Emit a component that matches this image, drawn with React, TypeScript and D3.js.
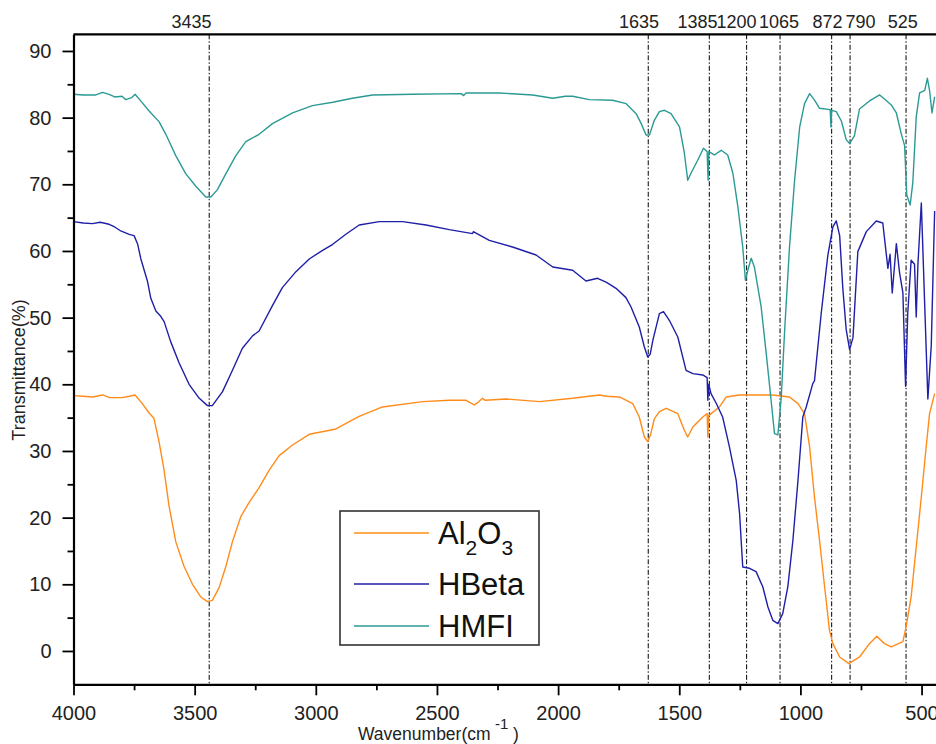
import { useEffect, useRef } from "react";
import * as d3 from "d3";

// [wavenumber, transmittance %]
const al2o3: [number, number][] = [
  [4000, 38.3], [3960, 38.2], [3922, 38.1], [3880, 38.4], [3850, 38.0], [3798, 38.0], [3770, 38.2],
  [3746, 38.4], [3716, 37.1], [3688, 35.7], [3668, 34.9], [3647, 31.4], [3626, 27.1], [3606, 21.8],
  [3578, 16.4], [3544, 12.7], [3509, 10.0], [3475, 8.1], [3447, 7.4], [3427, 7.6], [3399, 9.5],
  [3371, 12.7], [3344, 16.4], [3309, 20.2], [3275, 22.3], [3234, 24.5], [3193, 27.1], [3151, 29.3],
  [3096, 30.9], [3027, 32.5], [2958, 33.0], [2917, 33.3], [2862, 34.4], [2821, 35.2], [2725, 36.6],
  [2559, 37.4], [2449, 37.6], [2380, 37.6], [2346, 36.9], [2330, 37.3], [2312, 37.9], [2300, 37.6],
  [2215, 37.8], [2077, 37.4], [1940, 37.9], [1830, 38.4], [1800, 38.2], [1747, 38.1], [1692, 37.1],
  [1665, 35.1], [1644, 32.1], [1630, 31.4], [1618, 32.5], [1603, 34.8], [1582, 35.9], [1554, 36.4],
  [1506, 35.6], [1479, 33.1], [1465, 32.1], [1444, 33.6], [1403, 35.1], [1385, 35.6], [1382, 32.1],
  [1378, 35.3], [1369, 35.6], [1334, 36.6], [1306, 38.1], [1251, 38.4], [1114, 38.4], [1045, 38.1],
  [1010, 37.1], [983, 35.6], [962, 30.6], [942, 23.1], [921, 16.6], [900, 9.6], [880, 3.1],
  [866, 1.1], [838, -0.9], [800, -1.9], [756, -0.9], [715, 1.1], [685, 2.2], [653, 1.1],
  [625, 0.6], [577, 1.4], [564, 3.6], [543, 8.1], [522, 15.6], [501, 23.1], [481, 30.6],
  [467, 35.6], [446, 38.6],
];

const hbeta: [number, number][] = [
  [4000, 64.4], [3960, 64.2], [3922, 64.1], [3890, 64.3], [3853, 64.0], [3830, 63.6], [3805, 63.0],
  [3770, 62.5], [3750, 62.3], [3735, 61.0], [3722, 58.8], [3695, 55.5], [3681, 52.9], [3660, 51.0],
  [3640, 50.2], [3626, 49.4], [3599, 46.4], [3564, 43.2], [3523, 40.0], [3481, 37.9], [3447, 36.8],
  [3427, 36.8], [3385, 38.9], [3344, 42.1], [3303, 45.4], [3260, 47.3], [3234, 48.0], [3179, 51.8],
  [3138, 54.5], [3082, 56.9], [3027, 58.8], [2972, 60.1], [2930, 61.0], [2876, 62.5], [2821, 63.9],
  [2738, 64.4], [2642, 64.4], [2545, 63.9], [2449, 63.2], [2353, 62.6], [2350, 62.9], [2284, 61.6],
  [2188, 60.6], [2091, 59.4], [2022, 57.6], [1940, 57.1], [1885, 55.5], [1837, 55.9], [1800, 55.3],
  [1761, 54.4], [1720, 53.0], [1699, 51.6], [1665, 48.6], [1644, 45.6], [1630, 44.1], [1620, 44.5],
  [1609, 46.6], [1582, 50.6], [1565, 50.9], [1541, 49.6], [1506, 47.1], [1472, 42.1], [1444, 41.6],
  [1403, 41.4], [1385, 41.0], [1382, 37.6], [1378, 40.0], [1369, 38.6], [1348, 37.2], [1321, 35.1],
  [1293, 30.6], [1265, 25.6], [1251, 20.6], [1238, 12.6], [1210, 12.4], [1183, 11.9], [1155, 9.6],
  [1134, 6.6], [1114, 4.6], [1093, 4.1], [1073, 5.6], [1052, 9.6], [1031, 16.6], [1010, 25.6],
  [990, 35.1], [976, 36.6], [949, 40.1], [942, 40.5], [914, 50.7], [887, 59.3], [866, 63.6],
  [852, 64.5], [838, 62.3], [825, 54.4], [811, 48.2], [797, 45.2], [783, 47.0], [763, 59.9],
  [728, 62.9], [687, 64.5], [660, 64.2], [639, 57.4], [630, 59.5], [621, 53.7], [604, 61.1],
  [591, 56.8], [577, 53.7], [566, 39.7], [557, 50.7], [543, 58.6], [529, 58.0], [522, 50.1],
  [515, 58.0], [501, 67.2], [487, 51.9], [474, 37.8], [460, 45.8], [446, 66.0],
];

const hmfi: [number, number][] = [
  [4000, 83.5], [3960, 83.4], [3908, 83.4], [3880, 83.8], [3853, 83.5], [3830, 83.1], [3800, 83.2],
  [3784, 82.7], [3760, 83.0], [3746, 83.5], [3720, 82.4], [3688, 81.0], [3647, 79.4], [3619, 77.5],
  [3578, 74.3], [3537, 71.6], [3495, 69.7], [3454, 68.1], [3433, 68.1], [3406, 69.2], [3371, 71.6],
  [3330, 74.3], [3289, 76.4], [3234, 77.5], [3179, 79.1], [3096, 80.7], [3014, 81.8], [2930, 82.3],
  [2849, 82.9], [2766, 83.4], [2600, 83.5], [2400, 83.6], [2390, 83.3], [2380, 83.7], [2243, 83.7],
  [2105, 83.4], [2022, 82.9], [1970, 83.2], [1940, 83.2], [1871, 82.7], [1775, 82.6], [1719, 82.1],
  [1678, 80.6], [1657, 79.1], [1637, 77.4], [1623, 77.4], [1603, 79.6], [1582, 80.9], [1561, 81.1],
  [1534, 80.6], [1499, 78.6], [1479, 74.7], [1465, 70.6], [1451, 71.7], [1424, 73.6], [1400, 75.4],
  [1385, 74.9], [1381, 70.6], [1378, 74.9], [1355, 74.4], [1327, 75.1], [1300, 74.4], [1279, 71.7],
  [1258, 66.6], [1238, 60.6], [1227, 55.6], [1217, 57.1], [1203, 58.9], [1190, 57.6], [1162, 51.6],
  [1141, 44.6], [1121, 37.6], [1107, 32.6], [1093, 32.4], [1079, 38.1], [1065, 48.1], [1045, 60.6],
  [1024, 70.6], [1003, 78.6], [983, 82.1], [962, 83.6], [941, 82.6], [921, 81.4], [877, 81.2],
  [874, 78.6], [871, 81.1], [852, 80.9], [831, 79.5], [811, 76.7], [797, 76.1], [777, 77.3],
  [756, 81.3], [715, 82.5], [673, 83.4], [653, 82.8], [625, 81.9], [604, 80.7], [584, 77.6],
  [570, 75.8], [561, 68.4], [547, 66.9], [536, 70.3], [522, 80.1], [508, 83.7], [487, 84.1],
  [476, 85.9], [467, 84.1], [457, 80.7], [446, 83.1],
];

const peakLines = [3440, 1628, 1376, 1222, 1084, 871, 795, 564];
const peakLabels = ["3435", "1635", "1385", "1200", "1065", "872", "790", "525"];
const peakLabelAt = [3513, 1666, 1425, 1264, 1088, 888, 752, 578];

const xTicks = [4000, 3500, 3000, 2500, 2000, 1500, 1000, 500];
const xMinor = [3750, 3250, 2750, 2250, 1750, 1250, 750];
const yTicks = [0, 10, 20, 30, 40, 50, 60, 70, 80, 90];
const yMinor = [5, 15, 25, 35, 45, 55, 65, 75, 85];

const colors = { al2o3: "#ff8c1a", hbeta: "#1f1fa8", hmfi: "#2b9a94" };
const FONT = "'Liberation Sans', Arial, sans-serif";

export default function App() {
  const ref = useRef<SVGSVGElement>(null);

  useEffect(() => {
    const svg = d3.select(ref.current);
    svg.selectAll("*").remove();

    const x = d3.scaleLinear().domain([4000, 440]).range([73.5, 936.1]);
    const y = d3.scaleLinear().domain([-5, 92.5]).range([684.3, 34.3]);

    // peak marker lines
    svg
      .append("g")
      .selectAll("line")
      .data(peakLines)
      .enter()
      .append("line")
      .attr("x1", (d) => x(d))
      .attr("x2", (d) => x(d))
      .attr("y1", y(92.5))
      .attr("y2", y(-5))
      .attr("stroke", "#000")
      .attr("stroke-width", 1)
      .attr("stroke-dasharray", "5,2,1.5,2");

    svg
      .append("g")
      .selectAll("text")
      .data(peakLabels)
      .enter()
      .append("text")
      .attr("x", (d, i) => x(peakLabelAt[i]))
      .attr("y", 28)
      .attr("text-anchor", "middle")
      .attr("font-family", FONT)
      .attr("font-size", 18)
      .attr("fill", "#222")
      .text((d) => d);

    const line = d3
      .line<[number, number]>()
      .x((d) => x(d[0]))
      .y((d) => y(d[1]));

    const curves: [[number, number][], string][] = [
      [al2o3, colors.al2o3],
      [hbeta, colors.hbeta],
      [hmfi, colors.hmfi],
    ];
    curves.forEach(([data, c]) => {
      svg
        .append("path")
        .datum(data)
        .attr("fill", "none")
        .attr("stroke", c)
        .attr("stroke-width", 1.4)
        .attr("stroke-linejoin", "round")
        .attr("d", line);
    });

    // axes
    const fmt = d3.format("d");
    const xAxis = svg.append("g").attr("transform", `translate(0,${y(-5)})`);
    xAxis.call(
      d3
        .axisBottom(x)
        .tickValues(xTicks)
        .tickFormat((d) => fmt(d as number))
        .tickSize(11)
        .tickSizeOuter(0)
        .tickPadding(11)
    );
    const xAxisMinor = svg.append("g").attr("transform", `translate(0,${y(-5)})`);
    xAxisMinor.call(
      d3.axisBottom(x).tickValues(xMinor).tickSize(6).tickSizeOuter(0).tickFormat(() => "")
    );
    xAxisMinor.select(".domain").remove();

    const yAxis = svg.append("g").attr("transform", `translate(${x(4000)},0)`);
    yAxis.call(
      d3
        .axisLeft(y)
        .tickValues(yTicks)
        .tickFormat((d) => fmt(d as number))
        .tickSize(11)
        .tickSizeOuter(0)
        .tickPadding(11)
    );
    const yAxisMinor = svg.append("g").attr("transform", `translate(${x(4000)},0)`);
    yAxisMinor.call(
      d3.axisLeft(y).tickValues(yMinor).tickSize(6).tickSizeOuter(0).tickFormat(() => "")
    );
    yAxisMinor.select(".domain").remove();

    [xAxis, yAxis, xAxisMinor, yAxisMinor].forEach((g) => {
      g.selectAll(".domain").attr("stroke", "#000").attr("stroke-width", 2.2);
      g.selectAll(".tick line").attr("stroke", "#000").attr("stroke-width", 1.8);
      g.selectAll(".tick text")
        .attr("font-family", FONT)
        .attr("font-size", 20)
        .attr("fill", "#222");
    });

    // top frame
    svg
      .append("line")
      .attr("x1", x(4000))
      .attr("x2", 936)
      .attr("y1", y(92.5))
      .attr("y2", y(92.5))
      .attr("stroke", "#000")
      .attr("stroke-width", 2.2);

    // axis titles
    svg
      .append("text")
      .attr("transform", "translate(25,370) rotate(-90)")
      .attr("text-anchor", "middle")
      .attr("font-family", FONT)
      .attr("font-size", 18)
      .attr("fill", "#222")
      .text("Transmittance(%)");

    const xt = svg
      .append("text")
      .attr("font-family", FONT)
      .attr("font-size", 17.5)
      .attr("fill", "#222");
    xt.append("tspan").attr("x", 358).attr("y", 740).text("Wavenumber(cm");
    xt.append("tspan").attr("x", 495).attr("y", 729).attr("font-size", 15).text("-1");
    xt.append("tspan").attr("x", 513).attr("y", 740).text(")");

    // legend
    const lg = svg.append("g");
    lg.append("rect")
      .attr("x", 340)
      .attr("y", 511)
      .attr("width", 199)
      .attr("height", 134)
      .attr("fill", "#fff")
      .attr("stroke", "#333")
      .attr("stroke-width", 1.6);
    const rows: [string, string, number][] = [
      ["Al2O3", colors.al2o3, 533],
      ["HBeta", colors.hbeta, 584],
      ["HMFI", colors.hmfi, 626],
    ];
    rows.forEach(([name, c, ly]) => {
      lg.append("line")
        .attr("x1", 354)
        .attr("x2", 429)
        .attr("y1", ly)
        .attr("y2", ly)
        .attr("stroke", c)
        .attr("stroke-width", 1.5);
      const t = lg
        .append("text")
        .attr("x", 438)
        .attr("y", ly + 11)
        .attr("font-family", FONT)
        .attr("font-size", 31)
        .attr("fill", "#111");
      if (name === "Al2O3") {
        t.append("tspan").text("Al");
        t.append("tspan").attr("dy", 11).attr("font-size", 21).text("2");
        t.append("tspan").attr("dy", -11).text("O");
        t.append("tspan").attr("dy", 11).attr("font-size", 21).text("3");
      } else {
        t.text(name);
      }
    });
  }, []);

  return (
    <svg
      ref={ref}
      width={936}
      height={744}
      style={{ position: "absolute", left: 0, top: 0, background: "#fff" }}
    />
  );
}
